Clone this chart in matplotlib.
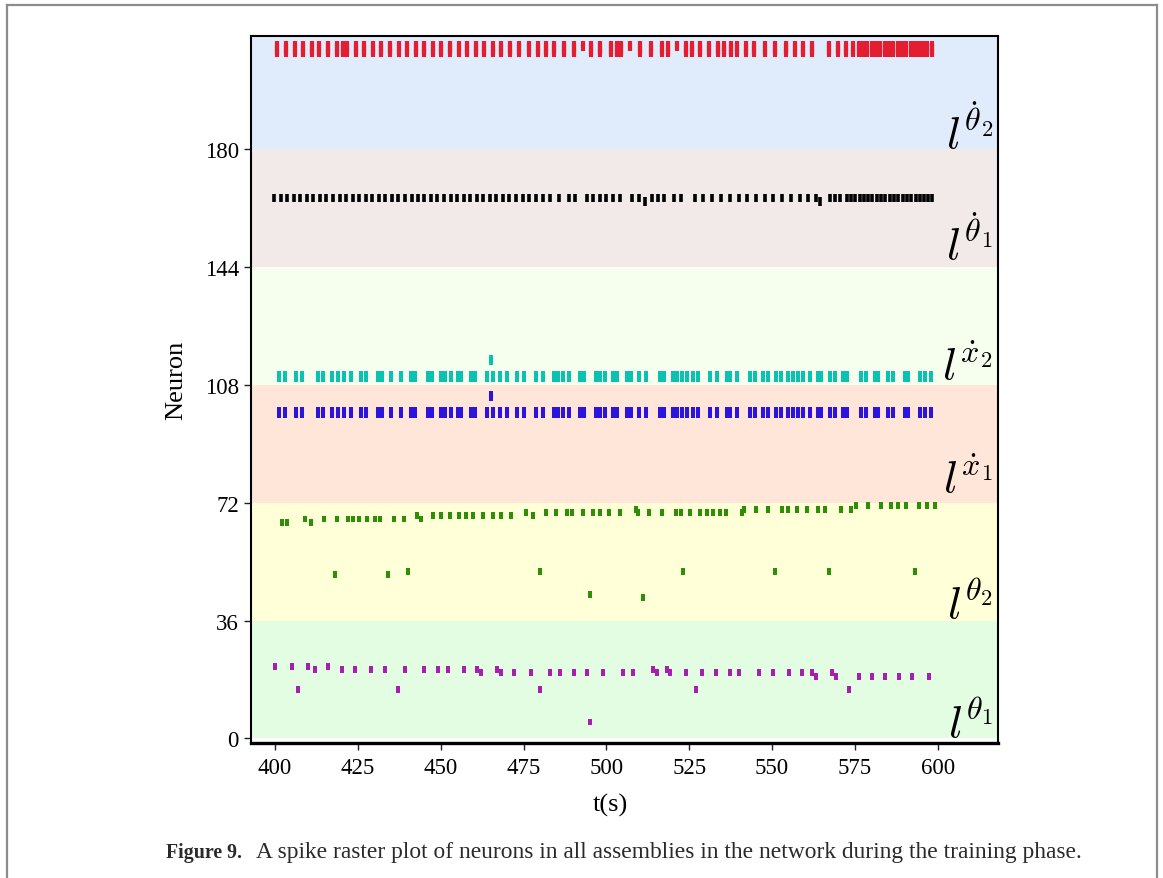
import matplotlib
matplotlib.use("Agg")
import matplotlib.pyplot as plt
from matplotlib.lines import Line2D

plt.rcParams['font.family'] = ['Liberation Serif', 'DejaVu Serif']
plt.rcParams['mathtext.fontset'] = 'cm'

# ---------------------------------------------------------------- assemblies
assembly_size = 36
assembly_labels = [r'$l^{\theta_1}$', r'$l^{\theta_2}$', r'$l^{\dot{x}_1}$',
                   r'$l^{\dot{x}_2}$', r'$l^{\dot{\theta}_1}$', r'$l^{\dot{\theta}_2}$']
band_colors = ['#e3fde3', '#ffffd8', '#ffe6d8', '#f6ffee', '#f2eae8', '#e0ecfc']
label_lift = [0.6, 1.0, 3.1, 1.7, 2.4, 0.5]

# ---------------------------------------------------------------- spikes
# l^theta1 assembly (time in s, neuron index)
theta1_times = [400.0, 405.1, 406.9, 410.0, 412.1, 416.0, 420.2, 424.1, 429.0, 433.2,
                437.1, 439.2, 444.9, 449.2, 452.2, 457.0, 460.9, 462.1, 467.0, 468.2,
                472.1, 477.2, 479.9, 483.0, 486.0, 490.2, 494.1, 495.0, 498.9, 505.0,
                508.0, 514.0, 515.2, 518.2, 519.2, 524.0, 527.0, 529.0, 533.0, 537.3,
                540.0, 546.0, 550.2, 555.1, 559.0, 562.0, 563.2, 568.0, 569.2, 573.2,
                576.2, 580.1, 584.0, 588.2, 592.2, 597.3]
theta1_neurons = [22, 22, 15, 22, 21, 22, 21, 21, 21, 21,
                  15, 21, 21, 21, 21, 21, 21, 20, 21, 20,
                  20, 20, 15, 20, 20, 20, 20, 5, 20, 20,
                  20, 21, 20, 21, 20, 20, 15, 20, 20, 20,
                  20, 20, 20, 20, 20, 20, 19, 20, 19, 15,
                  19, 19, 19, 19, 19, 19]

# l^theta2 assembly
theta2_times = [402.0, 403.7, 408.9, 410.8, 414.9, 418.8, 422.1, 423.5, 425.3, 427.9,
                430.2, 431.8, 436.0, 439.0, 442.9, 444.0, 447.7, 450.2, 452.8, 455.4,
                457.7, 459.9, 462.8, 465.7, 468.3, 471.2, 475.8, 478.0, 481.9, 484.7,
                488.0, 489.7, 492.9, 496.1, 498.1, 500.9, 504.1, 508.8, 509.4, 512.9,
                516.8, 520.9, 522.4, 525.2, 528.4, 530.4, 532.3, 534.2, 536.2, 540.8,
                541.6, 545.2, 548.9, 553.0, 554.9, 557.5, 560.7, 564.0, 565.9, 570.9,
                573.9, 575.2, 579.1, 583.0, 586.0, 587.9, 590.5, 594.4, 596.9, 599.1,
                418.1, 434.1, 440.1, 479.9, 495.0, 511.0, 523.0, 551.0, 567.1, 593.0]
theta2_neurons = [66, 66, 67, 66, 67, 67, 67, 67, 67, 67,
                  67, 67, 67, 67, 68, 67, 68, 68, 68, 68,
                  68, 68, 68, 68, 68, 68, 69, 68, 69, 69,
                  69, 69, 69, 69, 69, 69, 69, 70, 69, 69,
                  69, 69, 69, 69, 69, 69, 69, 69, 69, 69,
                  70, 70, 70, 70, 70, 70, 70, 70, 70, 70,
                  70, 71, 71, 71, 71, 71, 71, 71, 71, 71,
                  50, 50, 51, 51, 44, 43, 51, 51, 51, 51]

# l^xdot1 and l^xdot2 assemblies fire together
xdot_times = [401.1, 403.0, 406.3, 408.1, 413.1, 414.4, 417.1, 418.9, 420.8, 422.8,
              425.9, 427.5, 431.0, 432.2, 435.0, 437.9, 440.9, 442.1, 446.2, 447.4,
              450.1, 451.3, 453.1, 455.1, 456.2, 459.1, 460.3, 463.9, 465.9, 467.9,
              469.9, 473.1, 475.1, 478.7, 480.9, 484.2, 485.5, 487.0, 488.8, 492.0,
              493.2, 497.0, 498.2, 499.7, 501.9, 503.3, 506.1, 507.3, 509.8, 512.1,
              516.1, 517.4, 520.2, 521.2, 522.7, 524.2, 526.2, 527.7, 531.2, 533.4,
              536.3, 537.3, 539.3, 543.3, 544.8, 547.3, 548.8, 551.3, 552.8, 554.9,
              556.2, 557.9, 559.2, 561.4, 563.9, 564.9, 567.4, 568.9, 571.4, 572.5,
              577.0, 578.5, 581.0, 582.0, 585.0, 586.5, 590.0, 591.1, 594.6, 596.1,
              598.1]
xdot1_neurons = [99, 100]
xdot2_neurons = [110, 111]
xdot_extra_time = 465.1
xdot1_extra_neurons = [104, 105]
xdot2_extra_neurons = [115, 116]

# l^thetadot1 assembly
thetadot1_times = [399.8, 401.8, 403.7, 405.7, 407.6, 409.6, 411.6, 413.6, 415.5, 417.5,
                   419.5, 421.4, 423.4, 425.4, 427.4, 429.3, 431.3, 433.3, 435.2, 437.2,
                   439.2, 441.2, 443.1, 445.1, 447.1, 449.0, 451.0, 453.0, 455.0, 456.9,
                   458.9, 460.9, 462.8, 464.8, 466.8, 468.8, 470.7, 472.7, 474.7, 476.6,
                   478.9, 481.0, 483.0, 485.8, 488.6, 490.4, 494.1, 496.0, 498.0, 500.0,
                   502.0, 504.0, 507.8, 509.8, 513.7, 515.6, 517.4, 520.5, 522.6, 526.7,
                   529.3, 532.0, 534.6, 537.3, 539.9, 542.5, 545.2, 547.8, 550.4, 553.1,
                   555.7, 558.3, 561.0, 563.4, 567.5, 569.0, 570.5, 572.5, 573.8, 575.1,
                   576.4, 577.7, 579.0, 580.3, 581.6, 582.9, 584.2, 585.5, 586.8, 588.1,
                   589.4, 590.7, 592.0, 593.3, 594.6, 595.9, 597.2, 598.4,
                   511.8, 564.4]
thetadot1_neurons = [165] * 98 + [164, 164]

# l^thetadot2 assembly: a group of neurons firing in synchrony
thetadot2_times = [400.7, 403.3, 405.9, 408.5, 411.1, 413.4, 416.0, 418.6, 420.5, 421.8,
                   424.4, 427.0, 429.6, 432.1, 434.7, 437.3, 439.9, 442.5, 445.1, 447.7,
                   450.2, 452.8, 455.4, 458.0, 460.6, 463.2, 465.7, 468.3, 470.9, 473.5,
                   476.7, 479.3, 481.9, 484.2, 487.1, 490.3, 495.5, 498.1, 501.3, 503.2,
                   504.5, 510.3, 513.6, 516.8, 518.7, 523.9, 525.8, 528.4, 531.0, 533.6,
                   535.5, 537.5, 539.4, 542.0, 544.6, 547.8, 551.0, 554.3, 556.9, 559.4,
                   562.0, 567.2, 569.8, 572.4, 574.3, 576.3, 577.5, 578.8, 580.1, 581.4,
                   582.7, 584.0, 585.3, 586.6, 587.9, 589.2, 590.5, 591.8, 593.1, 594.3,
                   595.6, 596.9, 598.2]
thetadot2_neurons = [209, 210, 211, 212]
thetadot2_partial_times = [492.9, 507.1, 521.3]
thetadot2_partial_neurons = [211, 212]

x_ticks = [400, 425, 450, 475, 500, 525, 550, 575, 600]
y_ticks = [0, 36, 72, 108, 144, 180]

# ---------------------------------------------------------------- figure
fig = plt.figure(figsize=(11.63, 8.79), dpi=100)
ax = fig.add_axes([0.21625, 0.15358, 0.64188, 0.80489])

ax.set_xlim(392.9, 618.2)
ax.set_ylim(-1.4, 214.6)

# background bands, one per assembly
for i, c in enumerate(band_colors):
    lo = i * assembly_size
    hi = (i + 1) * assembly_size if i < len(band_colors) - 1 else 216
    ax.axhspan(lo, hi, color=c, lw=0, zorder=0)


def raster(times, neurons, color, lw, half=1.05):
    ax.vlines(times, [n - half for n in neurons], [n + half for n in neurons],
              colors=color, lw=lw, capstyle='butt', zorder=3)


raster(theta1_times, theta1_neurons, '#a61fae', 2.9)
raster(theta2_times, theta2_neurons, '#2e8f06', 2.9)

for n in xdot1_neurons:
    raster(xdot_times, [n] * len(xdot_times), '#2b14dc', 2.9)
for n in xdot2_neurons:
    raster(xdot_times, [n] * len(xdot_times), '#0bc2b0', 2.9)
raster([xdot_extra_time] * 2, xdot1_extra_neurons, '#2b14dc', 2.9)
raster([xdot_extra_time] * 2, xdot2_extra_neurons, '#0bc2b0', 2.9)

raster(thetadot1_times, thetadot1_neurons, '#000000', 2.6, half=1.3)

for n in thetadot2_neurons:
    raster(thetadot2_times, [n] * len(thetadot2_times), '#e41e30', 3.0)
for n in thetadot2_partial_neurons:
    raster(thetadot2_partial_times, [n] * len(thetadot2_partial_times), '#e41e30', 3.0)

# assembly names at the lower right of each band
for i, lab in enumerate(assembly_labels):
    ax.text(0.9933, i * assembly_size + label_lift[i], lab,
            transform=ax.get_yaxis_transform(), ha='right', va='baseline',
            fontsize=33, zorder=4)

ax.set_xticks(x_ticks)
ax.set_yticks(y_ticks)
ax.tick_params(axis='both', direction='out', length=5, width=1.0, labelsize=16.5,
               color='#222222')
ax.tick_params(axis='x', pad=5)
ax.tick_params(axis='y', pad=4)

for s in ['top', 'right', 'left']:
    ax.spines[s].set_linewidth(1.5)
ax.spines['bottom'].set_linewidth(2.4)

ax.set_xlabel('t(s)', fontsize=19)
ax.xaxis.set_label_coords(0.481, -0.087)
ax.xaxis.label.set_va('center')
ax.set_ylabel('Neuron', fontsize=19)
ax.yaxis.set_label_coords(-0.101, 0.514)
ax.yaxis.label.set_va('center')

# page frame and caption
frame = dict(transform=fig.transFigure, color='#8c8c8c', lw=1.6)
W, H = 1163.0, 879.0
fig.add_artist(Line2D([7 / W, 7 / W], [0, 1 - 5.5 / H], **frame))
fig.add_artist(Line2D([1157 / W, 1157 / W], [0, 1 - 5.5 / H], **frame))
fig.add_artist(Line2D([7 / W, 1157 / W], [1 - 5.5 / H, 1 - 5.5 / H], **frame))

fig.text(166 / W, 1 - 858 / H, 'Figure 9.', fontsize=14.3, weight='bold',
         color='#2a2a2a', va='baseline')
fig.text(256 / W, 1 - 858 / H,
         'A spike raster plot of neurons in all assemblies in the network during the training phase.',
         fontsize=16.9, color='#2a2a2a', va='baseline')

fig.savefig('out.png', dpi=100)
